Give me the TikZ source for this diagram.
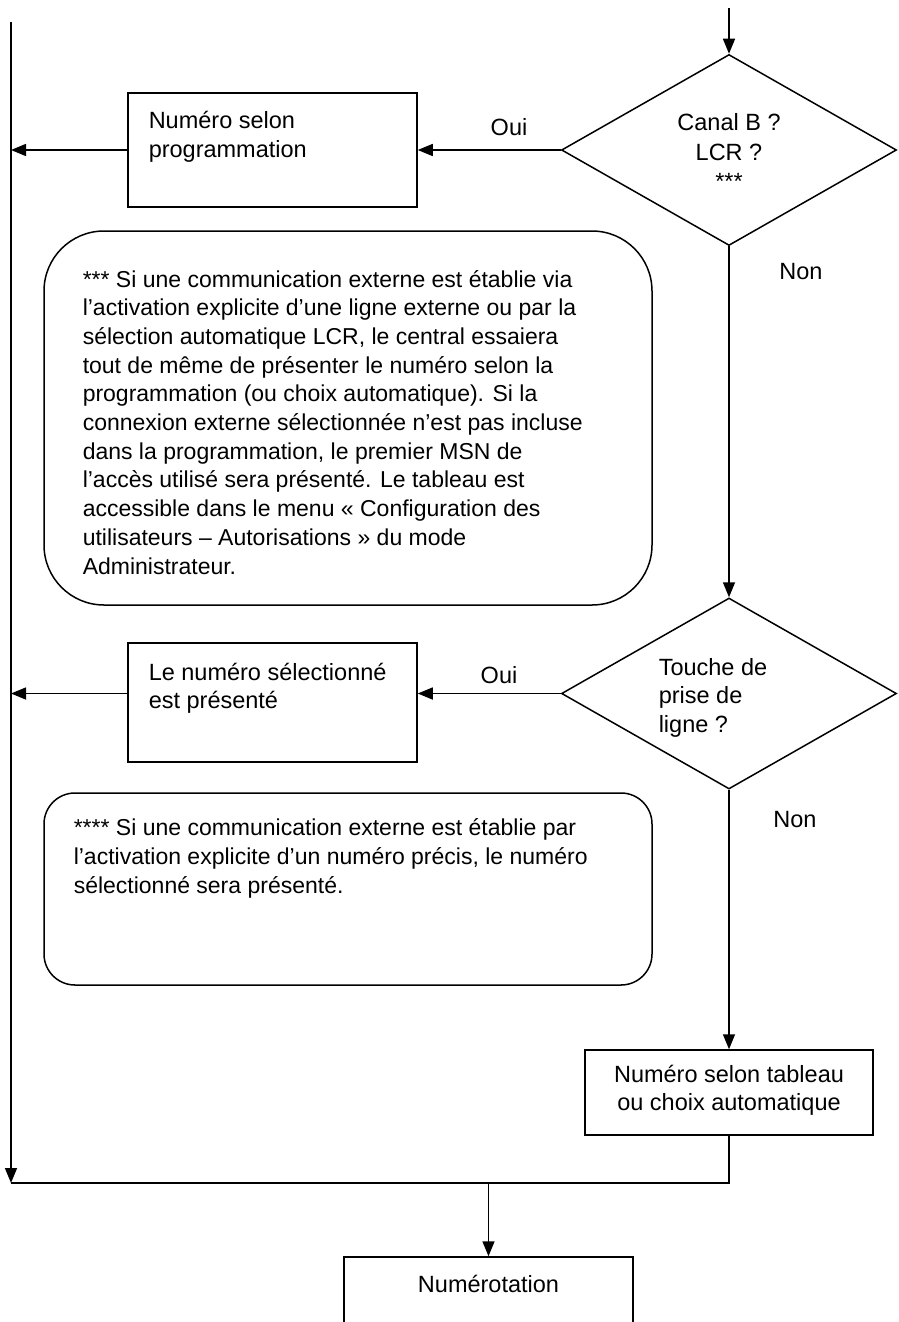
\documentclass[tikz,border=0pt]{standalone}
\usepackage{fontspec}
\setmainfont{Liberation Sans}
\usetikzlibrary{arrows.meta,shapes.geometric}
\begin{document}
\begin{tikzpicture}[x=1pt,y=-1pt,
  line width=1.5pt,
  >={Triangle[length=15pt,width=12pt]},
  boxnode/.style={draw,rectangle,inner sep=0pt,minimum width=289pt},
  dia/.style={draw,diamond,inner sep=0pt,minimum width=335pt,minimum height=191pt},
  note/.style={draw,rectangle,inner sep=0pt,minimum width=608pt},
  txt/.style={font=\fontsize{23.5}{29.5}\selectfont,inner sep=0pt,align=left},
  ntxt/.style={font=\fontsize{23}{28.7}\selectfont,inner sep=0pt,align=left},
  ctxt/.style={font=\fontsize{23.5}{29.5}\selectfont,inner sep=0pt,align=center}]
\clip (0,0) rectangle (899,1322);
\fill[white] (0,0) rectangle (899,1322);

% decision 1 (multi-line text nodes are placed by the baseline of their last line)
\node[dia] (d1) at (729,150) {};
\node[ctxt,anchor=base] (td1) at (729,189.5) {Canal B ?\\LCR ?\\***};
\node[boxnode,minimum height=114pt] (b1) at (272.5,150) {};
\node[txt,anchor=base west] (tb1) at (148,157.5) {Numéro selon\\programmation};
\node[txt,anchor=base] (oui1) at (509,135) {Oui};
\node[txt,anchor=base] (non1) at (801,279) {Non};

% note 1
\node[note,minimum height=374pt,rounded corners=60pt] (r1) at (348,418) {};
\node[ntxt,anchor=base west] (tr1) at (82,574) {*** Si une communication externe est établie via\\
l’activation explicite d’une ligne externe ou par la\\
sélection automatique LCR, le central essaiera\\
tout de même de présenter le numéro selon la\\
programmation (ou choix automatique). Si la\\
connexion externe sélectionnée n’est pas incluse\\
dans la programmation, le premier MSN de\\
l’accès utilisé sera présenté. Le tableau est\\
accessible dans le menu « Configuration des\\
utilisateurs – Autorisations » du mode\\
Administrateur.};

% decision 2
\node[dia] (d2) at (729,693.5) {};
\node[txt,anchor=base west,font=\fontsize{23.5}{28.5}\selectfont] (td2) at (658,732) {Touche de\\prise de\\ligne ?};
\node[boxnode,minimum height=119pt] (b2) at (272.5,702.5) {};
\node[txt,anchor=base west,font=\fontsize{23.5}{28}\selectfont] (tb2) at (148,708) {Le numéro sélectionné\\est présenté};
\node[txt,anchor=base] (oui2) at (499,683) {Oui};
\node[txt,anchor=base] (non2) at (795,827) {Non};

% note 2
\node[note,minimum height=192pt,rounded corners=31pt] (r2) at (348,889) {};
\node[ntxt,anchor=base west] (tr2) at (73,893) {**** Si une communication externe est établie par\\
l’activation explicite d’un numéro précis, le numéro\\
sélectionné sera présenté.};

% box 3
\node[boxnode,minimum width=288pt,minimum height=85pt] (b3) at (729,1092.5) {};
\node[ctxt,anchor=base,font=\fontsize{23.5}{28.5}\selectfont] (tb3) at (729,1110.5) {Numéro selon tableau\\ou choix automatique};

% box 4
\node[boxnode,minimum height=110pt] (b4) at (488.5,1312) {};
\node[ctxt,anchor=base] (tb4) at (488.5,1292) {Numérotation};

% free ends
\coordinate (topin) at (729,8);
\coordinate (ltop) at (11,22);
\coordinate (lbot) at (11,1183);

% connectors
\draw[->] (topin) -- (d1.north);
\draw[->] (d1.west) -- (b1.east);
\draw[->] (b1.west) -- (b1.west -| ltop);
\draw[->] (ltop) -- (lbot);
\draw[->] (d1.south) -- (d2.north);
\draw[->] (d2.west) -- (d2.west -| b2.east);
\draw[->] (b2.west |- d2.west) -- (ltop |- d2.west);
\draw[->] (d2.south) -- (b3.north);
\draw (b3.south) -- (b3.south |- lbot) -- (lbot);
\draw[->] (b4.north |- lbot) -- (b4.north);
\end{tikzpicture}
\end{document}
